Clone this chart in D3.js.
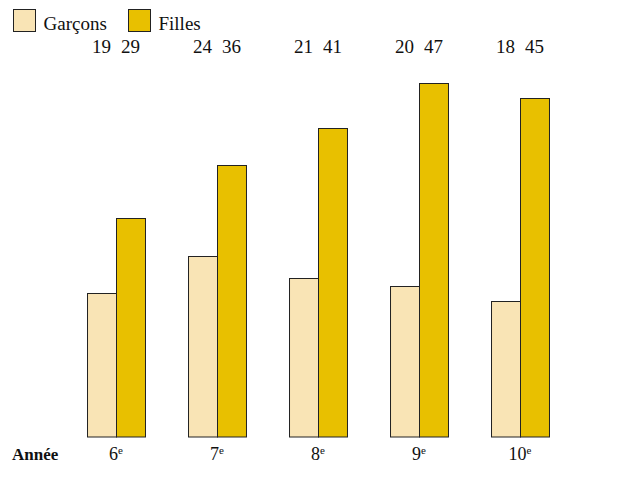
<!DOCTYPE html>
<html>
<head>
<meta charset="utf-8">
<script src="https://cdn.jsdelivr.net/npm/d3@7"></script>
</head>
<body style="margin:0;background:#fff">
<svg id="chart" width="619" height="479"></svg>
<script>
// School years and the two series (percent)
const years = ["6", "7", "8", "9", "10"];
const seriesNames = ["Garçons", "Filles"];
const garcons = [19, 24, 21, 20, 18];
const filles = [29, 36, 41, 47, 45];
const colors = ["#F9E4B5", "#E8C000"];

const FONT = "'Liberation Serif'";
const svg = d3.select("#chart");

const x = d3.scaleBand()
  .domain(years)
  .range([65.5, 570.5])
  .paddingInner(0.426)
  .paddingOuter(0.213);

const xSub = d3.scaleBand()
  .domain(seriesNames)
  .range([0, x.bandwidth()]);

const y = d3.scaleLinear()
  .domain([0, 47])
  .range([436.5, 82.5]);

const rows = years.map((yr, i) => ({
  year: yr,
  values: [
    { name: seriesNames[0], value: garcons[i], color: colors[0] },
    { name: seriesNames[1], value: filles[i], color: colors[1] }
  ]
}));

const groups = svg.selectAll("g.year")
  .data(rows)
  .join("g")
  .attr("class", "year")
  .attr("transform", d => `translate(${x(d.year)},0)`);

groups.selectAll("rect")
  .data(d => d.values)
  .join("rect")
  .attr("x", d => xSub(d.name) + 0.5)
  .attr("y", d => Math.round(y(d.value)) + 0.5)
  .attr("width", xSub.bandwidth())
  .attr("height", d => y(0) - Math.round(y(d.value)))
  .attr("fill", d => d.color)
  .attr("stroke", "#222")
  .attr("stroke-width", 1);

// value labels above each pair
groups.selectAll("text.val")
  .data(d => d.values)
  .join("text")
  .attr("class", "val")
  .attr("x", d => xSub(d.name) + xSub.bandwidth() / 2)
  .attr("y", 53)
  .attr("text-anchor", "middle")
  .style("font-family", FONT)
  .style("font-size", "19px")
  .attr("fill", "#111")
  .text(d => d.value);

// category axis (no line, no ticks)
const axis = svg.append("g")
  .attr("transform", `translate(0,${y(0)})`)
  .call(d3.axisBottom(x).tickSize(0).tickPadding(0).tickFormat(""));
axis.select(".domain").remove();

axis.selectAll(".tick").append("text")
  .attr("y", 23)
  .attr("text-anchor", "middle")
  .attr("fill", "#111")
  .style("font-family", FONT)
  .style("font-size", "18px")
  .each(function(d) {
    const t = d3.select(this);
    t.append("tspan").text(d);
    t.append("tspan").style("font-size", "11px").attr("dy", -6).text("e");
  });

svg.append("text")
  .attr("x", 12)
  .attr("y", y(0) + 23)
  .style("font-family", FONT)
  .style("font-size", "17px")
  .style("font-weight", "bold")
  .attr("fill", "#111")
  .text("Année");

// legend
const legend = svg.append("g");
const legendX = [13.5, 128.5];
seriesNames.forEach((name, i) => {
  legend.append("rect")
    .attr("x", legendX[i])
    .attr("y", 9.5)
    .attr("width", 22)
    .attr("height", 22)
    .attr("fill", colors[i])
    .attr("stroke", "#222")
    .attr("stroke-width", 1);
  legend.append("text")
    .attr("x", legendX[i] + 30)
    .attr("y", 30)
    .style("font-family", FONT)
    .style("font-size", "19px")
    .attr("fill", "#111")
    .text(name);
});
</script>
</body>
</html>
